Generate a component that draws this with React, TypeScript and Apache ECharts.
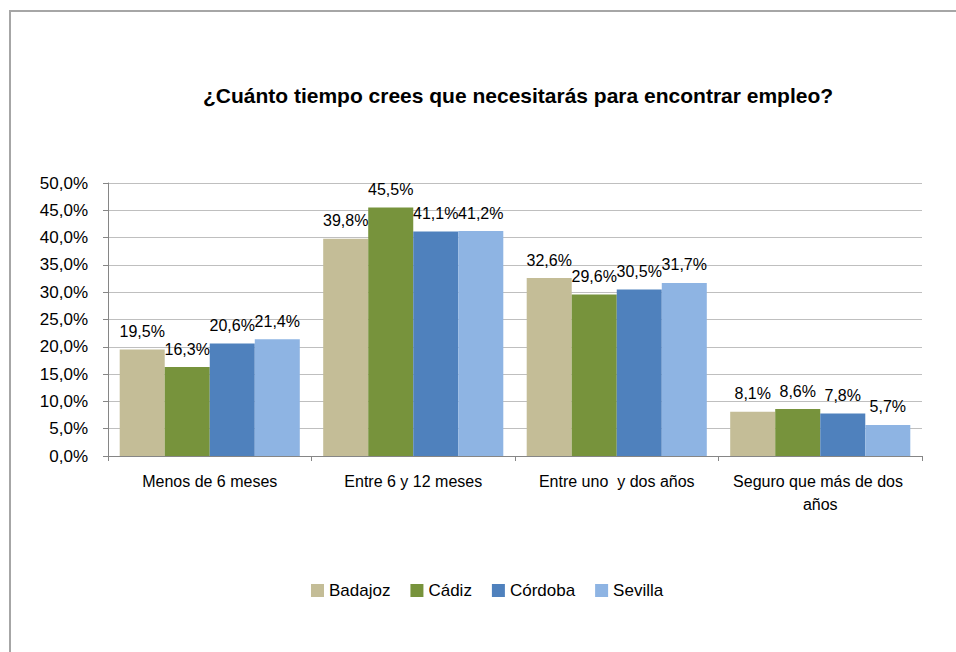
import React, { useEffect, useRef } from "react";
import * as echarts from "echarts";

const categories = [
  "Menos de 6 meses",
  "Entre 6 y 12 meses",
  "Entre uno  y dos años",
  "Seguro que más de dos años",
];
const seriesNames = ["Badajoz", "Cádiz", "Córdoba", "Sevilla"];
const badajoz = [19.5, 39.8, 32.6, 8.1];
const cadiz = [16.3, 45.5, 29.6, 8.6];
const cordoba = [20.6, 41.1, 30.5, 7.8];
const sevilla = [21.4, 41.2, 31.7, 5.7];
const colors = ["#C4BD97", "#77933C", "#4F81BD", "#8EB4E3"];
const titleText = "¿Cuánto tiempo crees que necesitarás para encontrar empleo?";

const fmt = (v: number) => v.toFixed(1).replace(".", ",") + "%";

export default function App() {
  const ref = useRef<HTMLDivElement>(null);
  useEffect(() => {
    if (!ref.current) return;
    const chart = echarts.init(ref.current, undefined, { renderer: "svg" });
    const font = "'Liberation Sans', Arial, sans-serif";
    const values = [badajoz, cadiz, cordoba, sevilla];
    chart.setOption({
      animation: false,
      backgroundColor: "#ffffff",
      textStyle: { fontFamily: font },
      title: {
        text: titleText,
        left: 513,
        top: 80,
        textAlign: "center",
        textStyle: { fontSize: 21, fontWeight: "bold", color: "#000000", fontFamily: font },
      },
      graphic: [
        {
          type: "rect",
          shape: { x: 10, y: 11, width: 1000, height: 700 },
          style: { fill: "none", stroke: "#a6a6a6", lineWidth: 2 },
          silent: true,
        },
      ],
      legend: {
        bottom: 48,
        left: 306,
        itemWidth: 13,
        itemHeight: 13,
        itemGap: 20,
        icon: "rect",
        textStyle: { fontSize: 17, color: "#000000", fontFamily: font },
        data: seriesNames,
      },
      grid: { left: 108, right: 34, top: 183, bottom: 196 },
      xAxis: {
        type: "category",
        data: categories,
        axisLine: { lineStyle: { color: "#868686" } },
        axisTick: { show: true, length: 5, lineStyle: { color: "#868686" } },
        axisLabel: {
          interval: 0,
          color: "#000000",
          fontSize: 16,
          margin: 14,
          width: 185,
          overflow: "break",
          lineHeight: 23,
          fontFamily: font,
        },
      },
      yAxis: {
        type: "value",
        min: 0,
        max: 50,
        interval: 5,
        axisLine: { show: true, lineStyle: { color: "#868686" } },
        axisTick: { show: true, length: 5, lineStyle: { color: "#868686" } },
        splitLine: { lineStyle: { color: "#bfbfbf" } },
        axisLabel: {
          color: "#000000",
          fontSize: 17,
          margin: 20,
          fontFamily: font,
          formatter: (v: number) => fmt(v),
        },
      },
      series: seriesNames.map((name, i) => ({
        name,
        type: "bar",
        data: values[i],
        barGap: "0%",
        barCategoryGap: "11.5%",
        itemStyle: { color: colors[i] },
        label: {
          show: true,
          position: "top",
          distance: 10,
          color: "#000000",
          fontSize: 16,
          fontFamily: font,
          formatter: (p: any) => fmt(p.value),
        },
      })),
    });
    return () => chart.dispose();
  }, []);
  return (
    <div
      ref={ref}
      style={{ position: "fixed", left: 0, top: 0, width: 956, height: 652 }}
    />
  );
}
